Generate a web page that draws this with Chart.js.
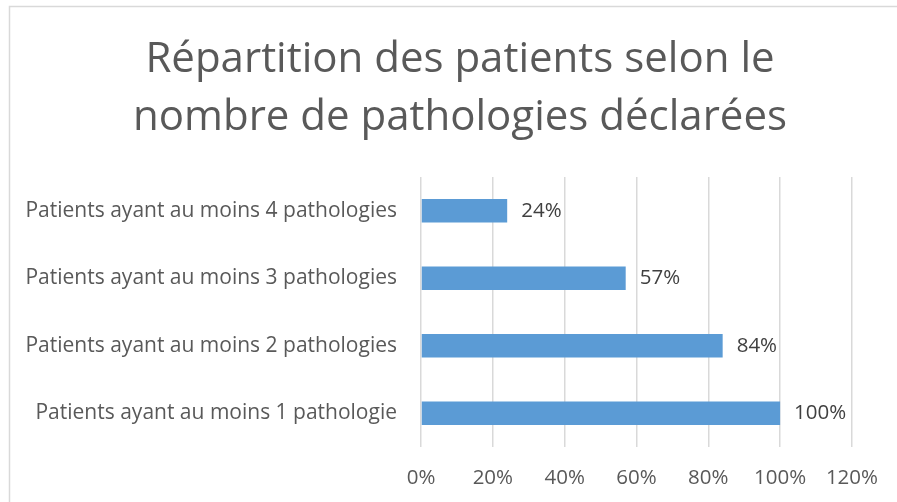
<!DOCTYPE html>
<html>
<head>
<meta charset="utf-8">
<script src="https://cdn.jsdelivr.net/npm/chart.js@4/dist/chart.umd.min.js"></script>
<style>
html,body{margin:0;padding:0;background:#fff;}
#wrap{width:897px;height:502px;position:relative;}
</style>
</head>
<body>
<div id="wrap"><canvas id="c" width="897" height="502"></canvas></div>
<script>
const categories = [
  "Patients ayant au moins 4 pathologies",
  "Patients ayant au moins 3 pathologies",
  "Patients ayant au moins 2 pathologies",
  "Patients ayant au moins 1 pathologie"
];
const values = [24, 57, 84, 100];
const xTicks = [0, 20, 40, 60, 80, 100, 120];
const titleLines = ["Répartition des patients selon le", "nombre de pathologies déclarées"];

const FONT = "'Open Sans', Lato, sans-serif";

const frame = {
  id: 'frame',
  beforeDraw(chart) {
    const ctx = chart.ctx;
    ctx.save();
    ctx.fillStyle = '#ffffff';
    ctx.fillRect(0, 0, chart.width, chart.height);
    ctx.strokeStyle = '#d9d9d9';
    ctx.lineWidth = 1.5;
    ctx.strokeRect(9.5, 6.5, chart.width + 10, chart.height + 10);
    ctx.restore();
  }
};

const titleDraw = {
  id: 'titleDraw',
  afterDraw(chart) {
    const ctx = chart.ctx;
    ctx.save();
    ctx.font = "42px " + FONT;
    ctx.fillStyle = '#595959';
    ctx.textAlign = 'center';
    ctx.textBaseline = 'alphabetic';
    ctx.fillText(titleLines[0], 460, 72);
    ctx.fillText(titleLines[1], 460, 130);
    ctx.restore();
  }
};

const dataLabels = {
  id: 'dataLabels',
  afterDatasetsDraw(chart) {
    const ctx = chart.ctx;
    const meta = chart.getDatasetMeta(0);
    ctx.save();
    ctx.font = "20.5px " + FONT;
    ctx.fillStyle = '#404040';
    ctx.textAlign = 'left';
    ctx.textBaseline = 'middle';
    meta.data.forEach((bar, i) => {
      ctx.fillText(values[i] + '%', bar.x + 14, bar.y);
    });
    ctx.restore();
  }
};

new Chart(document.getElementById('c'), {
  type: 'bar',
  data: {
    labels: categories,
    datasets: [{
      data: values,
      backgroundColor: '#5b9bd5',
      borderWidth: 0,
      barPercentage: 0.35,
      categoryPercentage: 1
    }]
  },
  options: {
    indexAxis: 'y',
    responsive: false,
    animation: false,
    layout: { padding: { left: 0, right: 44, top: 177, bottom: 0 } },
    plugins: {
      legend: { display: false },
      tooltip: { enabled: false },
      title: { display: false }
    },
    scales: {
      x: {
        min: 0,
        max: 120,
        afterBuildTicks(scale) { scale.ticks = xTicks.map(v => ({ value: v })); },
        afterFit(scale) { scale.height = 55; },
        grid: { color: '#d9d9d9', lineWidth: 1.5, drawTicks: false },
        border: { display: false },
        ticks: {
          color: '#595959',
          padding: 19,
          font: { family: FONT, size: 20.5, lineHeight: 1.2 },
          callback: v => v + '%',
          maxRotation: 0,
          autoSkip: false
        }
      },
      y: {
        afterFit(scale) { scale.width = 421; },
        grid: { display: false, drawTicks: false },
        border: { display: false },
        ticks: {
          color: '#595959',
          padding: 24,
          font: { family: FONT, size: 21 },
          autoSkip: false
        }
      }
    }
  },
  plugins: [frame, dataLabels, titleDraw]
});
</script>
</body>
</html>
